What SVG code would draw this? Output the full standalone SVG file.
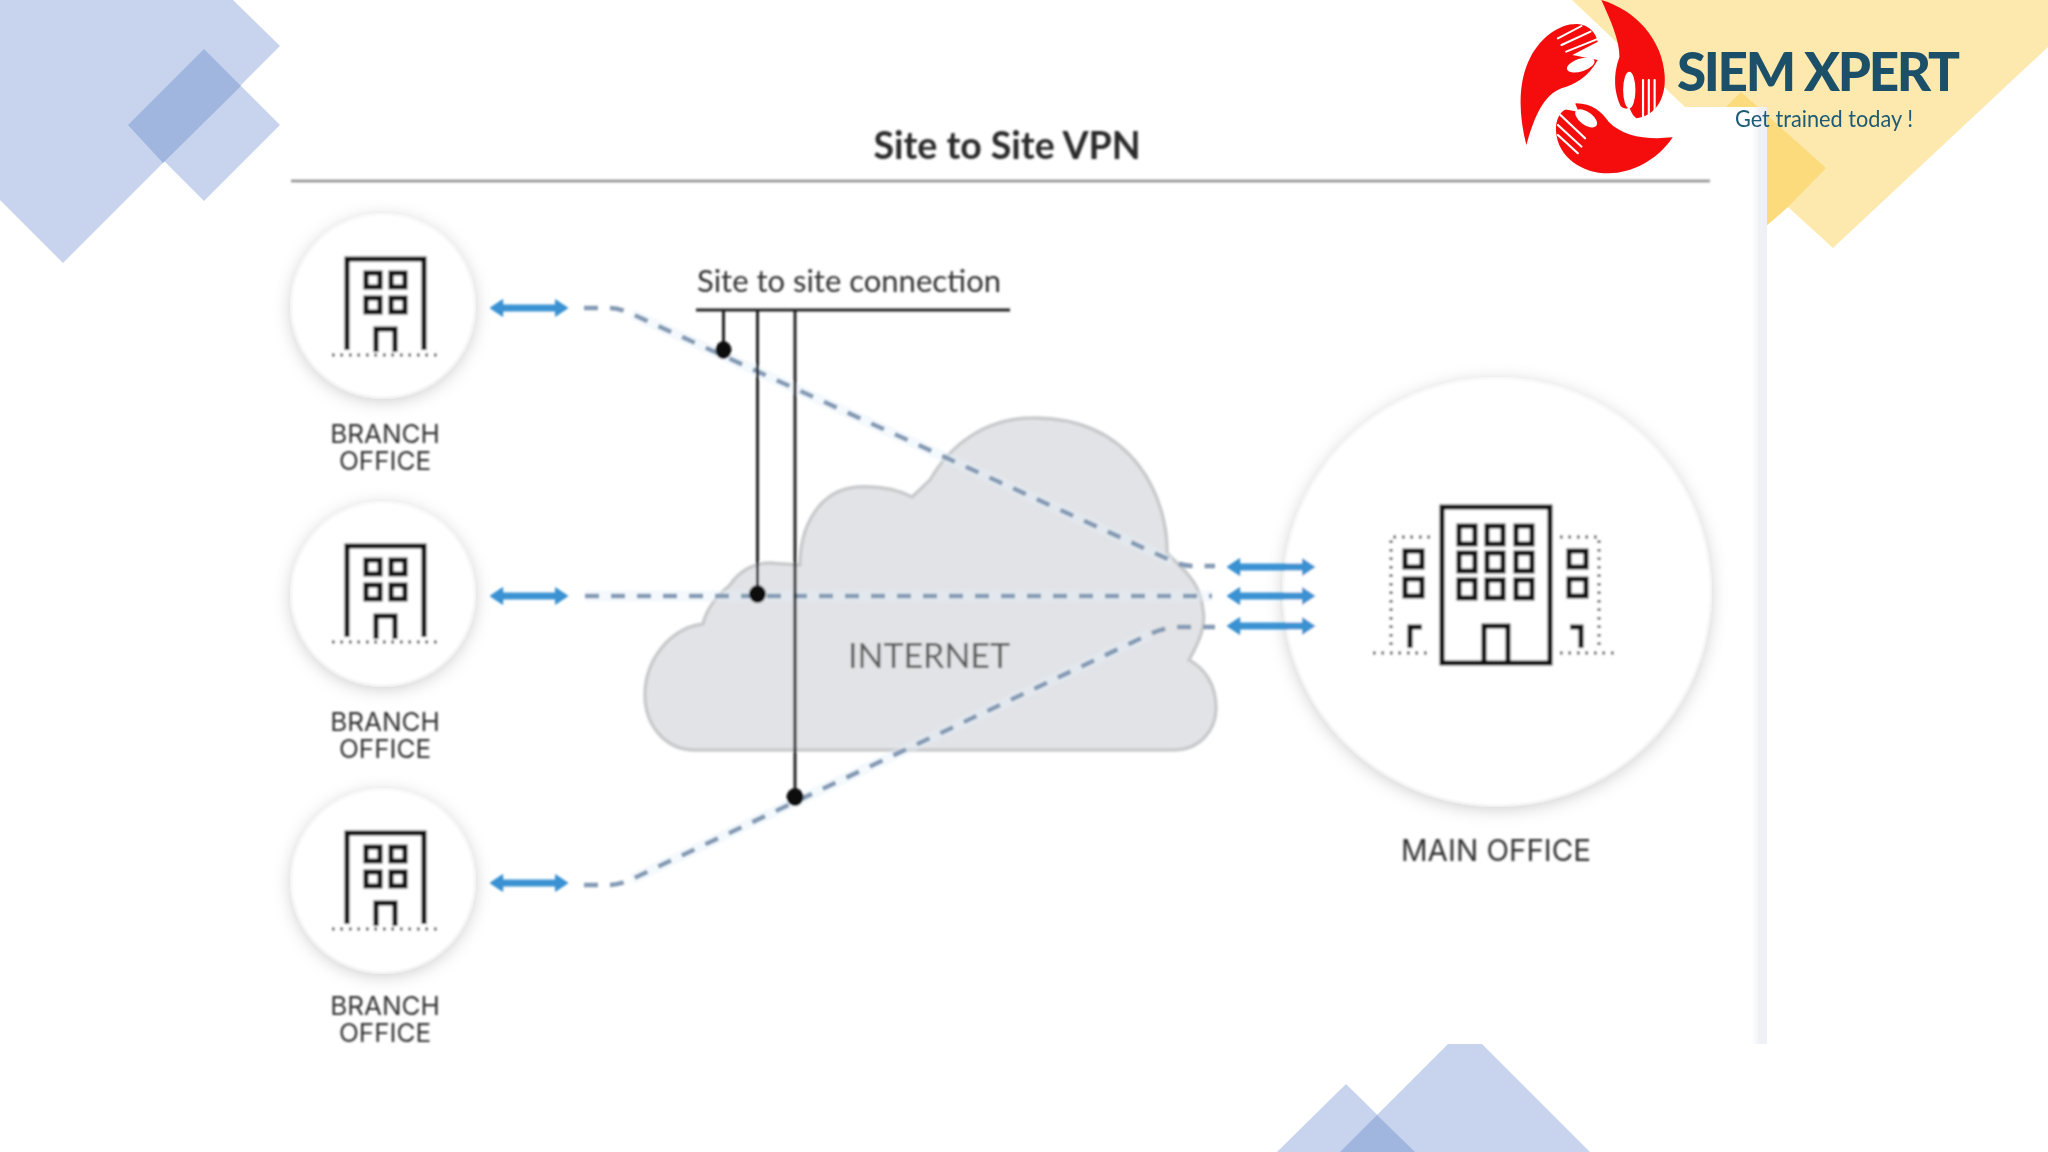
<svg xmlns="http://www.w3.org/2000/svg" width="2048" height="1152" viewBox="0 0 2048 1152">
<style>
.bl{fill:#c8d4ed}.bd{fill:#a0b6df}
.t{font-family:"Lato","Liberation Sans",sans-serif}
.lab{font-family:"Inter","Liberation Sans",sans-serif;font-size:26px;fill:#333;text-anchor:middle}
.ic{fill:none;stroke:#111;stroke-width:5}
.dot{fill:none;stroke:#333;stroke-width:3;stroke-dasharray:2.5 6}
.circ{fill:#fff;filter:url(#sh)}
.halo{fill:none;stroke:#e4f1fb;stroke-width:11;opacity:.4}
.dash{fill:none;stroke:#8399b3;stroke-width:4.500;stroke-dasharray:14 12}
.arr{fill:none;stroke:#3a92d2;stroke-width:7;marker-start:url(#hd);marker-end:url(#hd)}
.lead{fill:none;stroke:#222;stroke-width:3}
.pin{fill:#111}
.slit{fill:none;stroke:#fff;stroke-width:6;stroke-linecap:round}
</style>
<defs>
<filter id="sh" x="-30%" y="-30%" width="160%" height="160%"><feDropShadow dx="0" dy="3" stdDeviation="9" flood-color="#000" flood-opacity=".22"/></filter>
<filter id="soft"><feGaussianBlur stdDeviation="1"/></filter>
<filter id="soft2"><feGaussianBlur stdDeviation="0.5"/></filter>
<linearGradient id="edge" x1="0" x2="1" y1="0" y2="0"><stop offset="0" stop-color="#fff"/><stop offset=".5" stop-color="#eff1f5"/><stop offset="1" stop-color="#eef0f5"/></linearGradient>
<marker id="hd" viewBox="0 0 14 20" refX="0.500" refY="10" markerWidth="14" markerHeight="20" markerUnits="userSpaceOnUse" orient="auto-start-reverse"><path d="M1 2L13 10L1 18Z" fill="#3a92d2" stroke="#3a92d2" stroke-width="1.500" stroke-linejoin="round"/></marker>
<g id="bld"><path class="ic" d="M347 350V259H424V350"/><rect class="ic" x="366" y="273" width="14" height="14"/><rect class="ic" x="391" y="273" width="14" height="14"/><rect class="ic" x="366" y="298" width="14" height="14"/><rect class="ic" x="391" y="298" width="14" height="14"/><path class="ic" d="M376 352V329H395V352"/><path class="dot" d="M332 355H440"/></g>
</defs>
<rect width="2048" height="1152" fill="#fff"/>
<g id="deco">
<polygon class="bl" points="0,0 233,0 280,46 63,263 0,200"/>
<polygon class="bl" points="204,49 280,125 204,201 128,125"/>
<polygon class="bd" points="204,49 241,86 163,163 128,125"/>
<polygon class="bl" points="1448,1044 1482,1044 1590,1152 1340,1152"/>
<polygon class="bl" points="1346,1084 1415,1152 1277,1152"/>
<polygon class="bd" points="1377,1115 1415,1152 1340,1152"/>
<polygon fill="#fde9ae" points="1572,0 1685,107 1766,107 1766,226 1788,207 1833,248 2048,47 2048,0"/>
<polygon fill="#fbdb7c" points="1726,107 1741,92 1826,168 1788,207 1766,226 1766,107"/>
<rect x="1752" y="107" width="15" height="937" fill="url(#edge)"/>
</g>
<g filter="url(#soft)">
<g id="title"><text class="t" x="1007" y="159" font-size="37.500" font-weight="700" fill="#2b2b2b" text-anchor="middle">Site to Site VPN</text><path d="M291 181H1710" stroke="#8c8c8c" stroke-width="2.500"/></g>
<g id="cloud"><path d="M695 750H1173C1200 750 1216 730 1216 708C1216 684 1204 668 1189 660C1200 640 1206 625 1203 610C1201 590 1192 578 1181 567L1167 553C1168 500 1135 418 1034 418C985 418 950 445 930 480L912 497C895 488 875 486 857 487C820 490 800 525 800 565L770 563C755 563 740 570 730 585C712 600 705 615 703 624C670 628 645 660 645 695C645 725 665 750 695 750Z" fill="#e2e3e6" stroke="#c9cacc" stroke-width="3.500"/><text class="t" x="929" y="668" font-size="34" fill="#5c5c5c" text-anchor="middle">INTERNET</text></g>
<g id="branch1"><circle class="circ" cx="383" cy="306" r="91"/><use href="#bld"/><text class="lab" x="385" y="443">BRANCH</text><text class="lab" x="385" y="470">OFFICE</text></g>
<g id="branch2"><circle class="circ" cx="383" cy="594" r="91"/><use href="#bld" y="287"/><text class="lab" x="385" y="731">BRANCH</text><text class="lab" x="385" y="758">OFFICE</text></g>
<g id="branch3"><circle class="circ" cx="383" cy="881" r="91"/><use href="#bld" y="574"/><text class="lab" x="385" y="1015">BRANCH</text><text class="lab" x="385" y="1042">OFFICE</text></g>
<g id="main"><circle class="circ" cx="1497" cy="592" r="213"/>
<rect class="ic" x="1442" y="507" width="108" height="156"/>
<g class="ic"><rect x="1459" y="526" width="16" height="18"/><rect x="1487" y="526" width="16" height="18"/><rect x="1516" y="526" width="16" height="18"/><rect x="1459" y="553" width="16" height="18"/><rect x="1487" y="553" width="16" height="18"/><rect x="1516" y="553" width="16" height="18"/><rect x="1459" y="580" width="16" height="18"/><rect x="1487" y="580" width="16" height="18"/><rect x="1516" y="580" width="16" height="18"/><rect x="1405" y="551" width="17" height="16"/><rect x="1405" y="579" width="17" height="17"/><rect x="1569" y="551" width="17" height="16"/><rect x="1569" y="579" width="17" height="17"/><path d="M1484 663V626H1508V663"/><path d="M1410 648V627H1422"/><path d="M1581 648V627H1570"/></g>
<path class="dot" d="M1430 537H1391V647M1373 653H1432M1560 537H1599V647M1560 653H1617"/>
<text class="lab" x="1496" y="861" style="font-size:29.500px">MAIN OFFICE</text></g>
<g id="connectors">
<path class="halo" d="M632 314L1172 561M585 596H1212M632 879L1150 634"/>
<path class="dash" d="M584 308H608Q620 308 632 314L1172 561Q1182 566 1194 566H1215"/>
<path class="dash" d="M585 596H1212"/>
<path class="dash" d="M584 885H608Q620 885 632 879L1150 634Q1165 627 1180 627H1215"/>
<path class="arr" d="M503 308H555"/><path class="arr" d="M503 596H555"/><path class="arr" d="M503 883H555"/>
<path class="arr" d="M1240 567H1302"/><path class="arr" d="M1240 596H1302"/><path class="arr" d="M1240 626H1302"/>
</g>
<g id="callout"><text class="t" x="697" y="292" font-size="31" fill="#333">Site to site connection</text><path class="lead" d="M696 310H1010M723.500 310V350M757.500 310V594M795 310V797"/><ellipse class="pin" cx="723.500" cy="350" rx="8" ry="9"/><ellipse class="pin" cx="757.500" cy="594" rx="8.500" ry="9"/><ellipse class="pin" cx="795" cy="797" rx="8.500" ry="9"/></g>
</g>
<g id="logo" filter="url(#soft2)">
<g transform="translate(1480,0) scale(0.3623,0.3333)" fill="#f50a0a">
<path d="M335 0C430 30 505 120 510 230C512 290 490 345 432 355C420 345 415 330 412 320C405 330 395 325 388 318C372 280 365 230 385 170C385 120 360 60 335 0Z"/>
<ellipse cx="412" cy="270" rx="17" ry="55" fill="#fff"/>
<path class="slit" d="M450 240V350M466 240V350M482 240V340"/>
<path d="M128 435C105 340 105 240 140 170C170 110 220 70 270 72C300 75 318 95 325 125L255 165L325 180C300 230 260 255 225 265C175 285 150 350 128 435Z"/>
<ellipse cx="278" cy="195" rx="40" ry="19" transform="rotate(-20 278 195)" fill="#fff"/>
<path class="slit" d="M215 115L280 78M225 135L305 95M238 155L322 118"/>
<path d="M532 412C490 480 420 520 355 520C280 520 215 470 210 395C208 370 215 345 230 332L265 310C310 310 335 335 355 365C395 410 460 420 532 412Z"/>
<ellipse cx="293" cy="355" rx="36" ry="19" transform="rotate(40 293 355)" fill="#fff"/>
<path d="M232 328L262 308L272 335Z" fill="#fff"/>
<path class="slit" d="M222 345L290 415M215 375L280 440M215 405L270 460"/>
</g>
<text class="t" x="1677" y="91" font-size="53" font-weight="900" fill="#1a5068" textLength="283" lengthAdjust="spacing">SIEM XPERT</text>
<text class="t" x="1735" y="127" font-size="24" fill="#1d5a75" textLength="178" lengthAdjust="spacingAndGlyphs">Get trained today !</text>
</g>
</svg>
